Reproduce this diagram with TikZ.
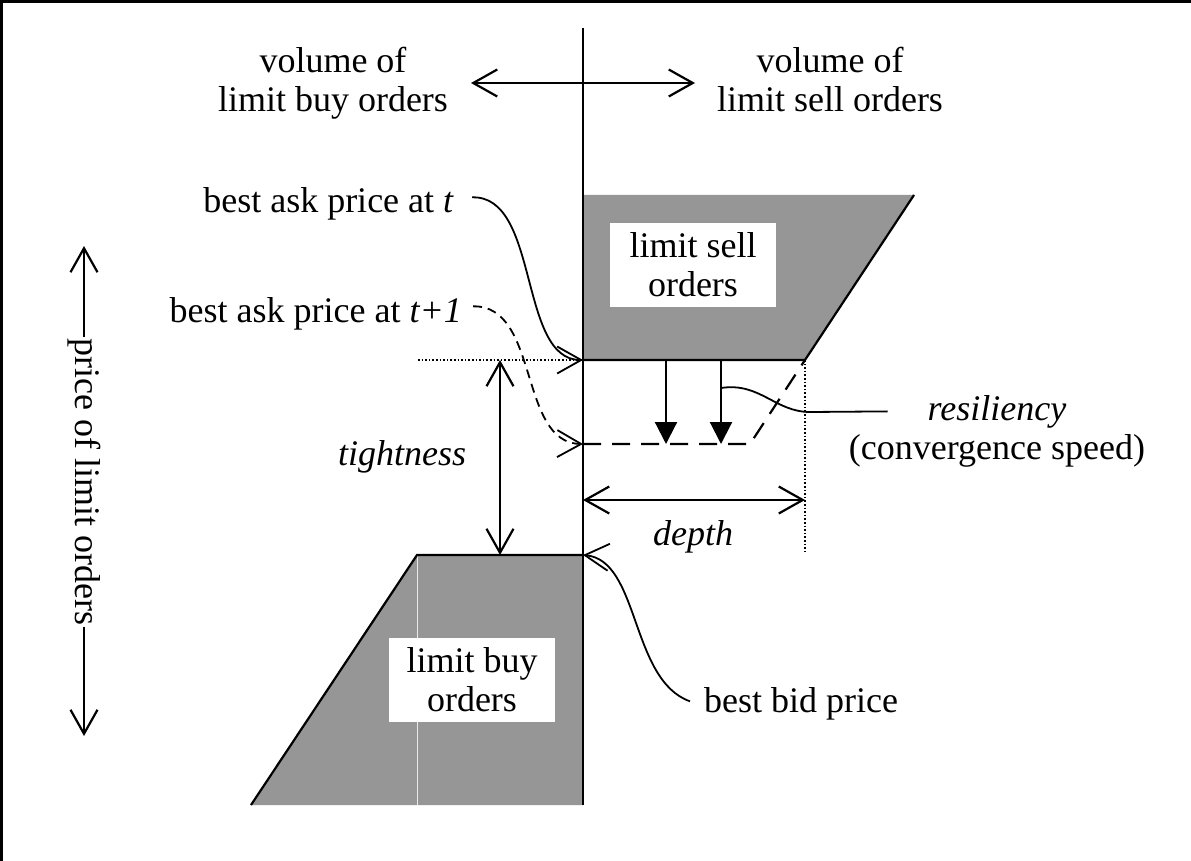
\documentclass[tikz,border=0pt]{standalone}
\usepackage{fontspec}
\setmainfont{Liberation Serif}
\usetikzlibrary{arrows.meta,positioning}
\definecolor{ordergray}{RGB}{150,150,150}

\begin{document}
\begin{tikzpicture}[x=1pt,y=-1pt,line width=2.2pt,>={Straight Barb[length=24pt,width=27pt]}]
\tikzstyle{every node}=[font=\fontsize{36}{39}\selectfont,inner sep=0pt]
\tikzstyle{orderbox}=[fill=white,minimum width=166pt,minimum height=84pt,align=center]
\tikzstyle{dotguide}=[line width=1.6pt,dotted]
\tikzstyle{moved}=[dash pattern=on 18pt off 11pt]
\tikzstyle{lead}=[line width=1.8pt]
\tikzstyle{drop}=[-{Triangle[length=22pt,width=22pt]}]
\useasboundingbox (0,0) rectangle (1191,861);
\draw[line width=3pt] (1.5,861) -- (1.5,1.5) -- (1191,1.5);

% key points of the book
\coordinate (axtop) at (583,28);
\coordinate (axbot) at (583,805);
\coordinate (asktop) at (914,195);
\coordinate (askcorner) at (805,360);
\coordinate (ask) at (583,360);
\coordinate (bid) at (583,555);
\coordinate (bidcorner) at (417,555);
\coordinate (bidfoot) at (251,805);
\coordinate (newask) at (583,444);
\coordinate (newcorner) at (750,444);

% order blocks
\fill[ordergray] (583,195) -- (asktop) -- (askcorner) -- (ask) -- cycle;
\fill[ordergray] (bidcorner) -- (bid) -- (axbot) -- (bidfoot) -- cycle;
\draw[white!80!ordergray,line width=0.8pt] (bidcorner) -- (417,805);
\draw (asktop) -- (askcorner) -- (ask);
\draw (bid) -- (bidcorner) -- (bidfoot);
\draw[moved] (newask) -- (newcorner) -- (askcorner);
\draw[line width=2.4pt] (axtop) -- (axbot);

\node[orderbox] (sellbox) at (693,265) {limit sell\\orders};
\node[orderbox] (buybox) at (472,680) {limit buy\\orders};

% volume axis
\node[align=center,anchor=north] (buyvol) at (333,46) {volume of\\limit buy orders};
\node[align=center,anchor=north] (sellvol) at (830,46) {volume of\\limit sell orders};
\coordinate (volleft) at (471,83);
\coordinate (volright) at (695,83);
\draw[<->] (volleft) -- (volright);

% price axis
\node[rotate=-90] (price) at (84,482) {price of limit orders};
\coordinate (pricetop) at (84,246);
\coordinate (pricebot) at (84,736);
\draw[->] (price.west) -- (pricetop);
\draw[->] (price.east) -- (pricebot);

% best prices
\node[anchor=base east] (askt) at (455,212) {best ask price at \textit{t}};
\node[anchor=base east] (asknext) at (463,322) {best ask price at \textit{t+1}};
\node[anchor=base west] (bidlbl) at (703,712) {best bid price};
\draw[->,lead] ([xshift=17pt,yshift=6pt]askt.east) .. controls (540,195) and (518,360) .. (ask);
\draw[->,lead,dash pattern=on 9pt off 6pt] ([xshift=10pt,yshift=7pt]asknext.east) .. controls (540,305) and (518,443) .. (newask);
\draw[->,lead] ([xshift=-13pt,yshift=2pt]bidlbl.west) .. controls (630,680) and (640,560) .. (bid);

% tightness
\coordinate (tighttop) at (500,360);
\coordinate (tightbot) at (500,555);
\coordinate (spreadend) at (418,360);
\draw[dotguide] (spreadend) -- (ask);
\draw[<->] (tighttop) -- (tightbot);
\node[anchor=base] (tight) at (402,465) {\textit{tightness}};

% depth
\coordinate (depthend) at (805,553);
\coordinate (depthleft) at (583,500);
\coordinate (depthright) at (805,500);
\draw[dotguide] (askcorner) -- (depthend);
\draw[<->] (depthleft) -- (depthright);
\node[anchor=base] (depthlbl) at (693,545) {\textit{depth}};

% resiliency
\draw[drop] (666,360) -- (666,444);
\draw[drop] (721,360) -- (721,444);
\node[anchor=base] (resil) at (997,420) {\textit{resiliency}};
\node[below=5pt of resil] (conv) {(convergence speed)};
\draw[lead] (721,388) .. controls (760,382) and (775,412) .. (810,412) -- ([xshift=-39pt]resil.west);
\end{tikzpicture}
\end{document}
